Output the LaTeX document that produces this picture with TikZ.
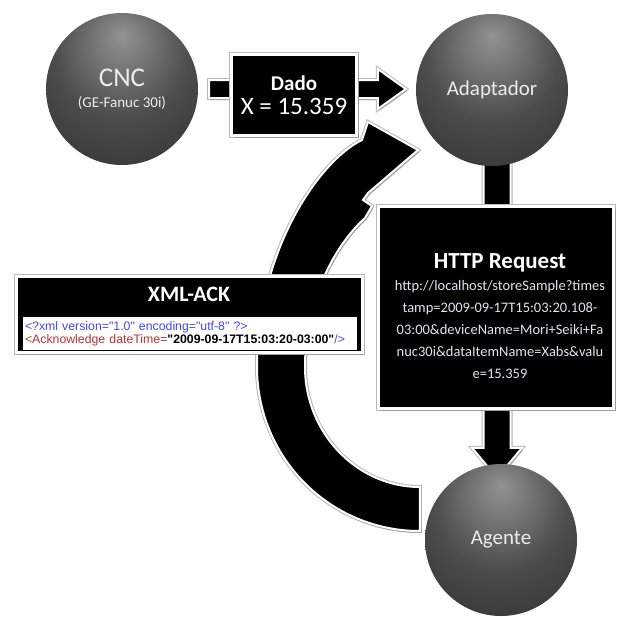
\documentclass[tikz,border=0pt]{standalone}
\usepackage{fontspec}
\setmainfont{Carlito}
\newfontfamily\xmlfont{Liberation Sans}
\usetikzlibrary{shadows,calc}
\definecolor{xb}{HTML}{4646F5}
\definecolor{xr}{HTML}{B83232}
\definecolor{rq}{HTML}{DCE6F0}
\pgfdeclareradialshading{hubshade}{\pgfpoint{0bp}{18bp}}{color(0bp)=(gray!85);color(22bp)=(gray!60!black);color(45bp)=(gray!35!black);color(70bp)=(gray!15!black)}
\pgfdeclarelayer{back}
\pgfsetlayers{back,main}

\begin{document}
\begin{tikzpicture}[x=1pt,y=-1pt]
  \tikzstyle{hub}=[circle,shading=hubshade,minimum size=152pt,inner sep=0pt,text=white!85!gray,align=center]
  \tikzstyle{card}=[fill=black,draw=white,line width=3pt,inner sep=0pt,
    preaction={draw=gray!55,line width=5pt},
    drop shadow={shadow xshift=2pt,shadow yshift=-2.5pt,opacity=.5}]
  \tikzstyle{fat}=[fill=black,draw=white,line width=2pt,
    preaction={draw=gray!55,line width=4pt},
    drop shadow={shadow xshift=1.5pt,shadow yshift=-2pt,opacity=.5}]
  \useasboundingbox (0,0) rectangle (618,616);

  % the three parts
  \node[hub,font=\fontsize{15}{21}\selectfont] (cnc) at (122,89) {{\fontsize{27}{21}\selectfont CNC}\\(GE-Fanuc 30i)};
  \node[hub,font=\fontsize{21}{24}\selectfont] (adapt) at (492,90) {Adaptador};
  \node[hub,font=\fontsize{21}{24}\selectfont] (agent) at (501,540) {Agente};

  % messages
  \node[card,minimum width=125,minimum height=81,text=white,align=center,font=\fontsize{21}{24}\selectfont] (dado) at (294,95)
    {\textbf{Dado}\\{\fontsize{25}{24}\selectfont X = 15.359}};
  \node[card,minimum width=235,minimum height=202] (req) at (496,307.5) {};
  \node[text=rq,align=center,font=\fontsize{14.5}{22}\selectfont] (reqtext) at (500,316)
    {{\fontsize{23}{22}\selectfont\bfseries\color{white}HTTP Request}\\
     http://localhost/storeSample?times\\
     tamp=2009-09-17T15:03:20.108-\\
     03:00\&deviceName=Mori+Seiki+Fa\\
     nuc30i\&dataItemName=Xabs\&valu\\
     e=15.359};
  \node[card,minimum width=346,minimum height=76] (ack) at (189,314) {};
  \node[text=white,font=\fontsize{22}{24}\selectfont\bfseries] (acktitle) at (189,294) {XML-ACK};
  \node[fill=white,inner sep=0pt,minimum width=334,minimum height=33,text width=330,align=left,
        font=\xmlfont\fontsize{12.3}{13}\selectfont] (ackcode) at (190,333.5)
    {\color{xb}<?xml version="1.0" encoding="utf-8" ?>\\
     \color{xr}<Acknowledge dateTime=\color{black}\textbf{"2009-09-17T15:03:20-03:00"}\color{xb} />};

  % fat arrows behind
  \begin{pgfonlayer}{back}
    \coordinate (dadoFrom) at ($(cnc.east)+(11,0)$);
    \coordinate (dadoTo) at ($(adapt.west |- dadoFrom)+(-10,0)$);
    \draw[fat] ($(dadoFrom)+(0,-9)$) -- ($(dadoTo)+(-28,-9)$) -- ($(dadoTo)+(-28,-20)$) -- (dadoTo)
      -- ($(dadoTo)+(-28,20)$) -- ($(dadoTo)+(-28,9)$) -- ($(dadoFrom)+(0,9)$) -- cycle;

    \coordinate (reqFrom) at ($(adapt.south)+(5,-5)$);
    \coordinate (reqTo) at ($(agent.north)+(-4,14)$);
    \draw[fat] ($(reqFrom)+(-13.5,0)$) -- ($(reqTo)+(-13.5,-30)$) -- ($(reqTo)+(-25,-30)$) -- (reqTo)
      -- ($(reqTo)+(25,-30)$) -- ($(reqTo)+(13.5,-30)$) -- ($(reqFrom)+(13.5,0)$) -- cycle;

    \coordinate (ackFrom) at ($(agent.west)+(-5,-9)$);
    \coordinate (ackTo) at ($(adapt.center)+(-74,60)$);
    \draw[fat] (ackFrom) .. controls (330,531) and (257,458) .. (257,367)
      .. controls (257,250) and (320,160) .. (362,140)
      -- (368,122) -- (ackTo) -- (368,193) -- (363,200) -- (372,206) -- (365,218)
      .. controls (335,245) and (305,300) .. (305,367)
      .. controls (305,433) and (357,487) .. ($(ackFrom)+(0,-44)$) -- cycle;
  \end{pgfonlayer}
\end{tikzpicture}
\end{document}
